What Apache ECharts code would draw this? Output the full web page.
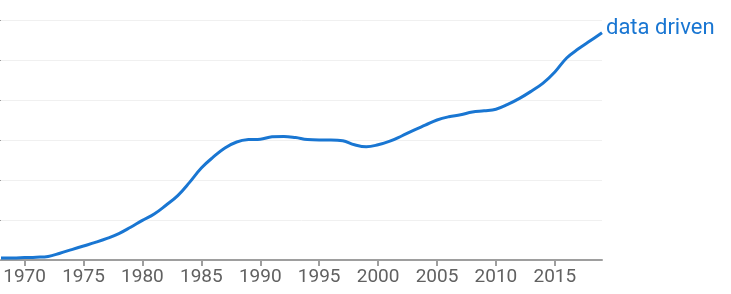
<!DOCTYPE html>
<html>
<head>
<meta charset="utf-8">
<script src="https://cdn.jsdelivr.net/npm/echarts@6/dist/echarts.min.js"></script>
<style>
html,body{margin:0;padding:0;background:#fff;}
#chart{width:731px;height:294px;}
</style>
</head>
<body>
<div id="chart"></div>
<script>
var years = [];
for (var y = 1968; y <= 2019; y++) years.push(String(y));

var seriesName = 'data driven';
var values = [
  0.05, 0.05, 0.06, 0.07, 0.09, 0.17, 0.26, 0.35, 0.44, 0.54,
  0.66, 0.82, 0.99, 1.15, 1.37, 1.61, 1.94, 2.30, 2.57, 2.80,
  2.95, 3.01, 3.02, 3.08, 3.09, 3.06, 3.01, 3.00, 3.00, 2.98,
  2.88, 2.83, 2.88, 2.97, 3.10, 3.24, 3.37, 3.50, 3.58, 3.63,
  3.70, 3.73, 3.77, 3.89, 4.04, 4.22, 4.42, 4.70, 5.05, 5.28,
  5.48, 5.68
];

var chart = echarts.init(document.getElementById('chart'), null, {renderer: 'canvas'});
function every5(idx, val) { return Number(val) % 5 === 0; }
chart.setOption({
  animation: false,
  grid: {left: 1, right: 129, top: 20, bottom: 34, containLabel: false},
  xAxis: {
    type: 'category',
    data: years,
    boundaryGap: false,
    axisLine: {show: true, lineStyle: {color: '#9e9e9e', width: 2}},
    axisTick: {show: true, interval: every5, length: 6, lineStyle: {color: '#9e9e9e', width: 2}},
    axisLabel: {interval: every5, color: '#616161', fontSize: 19, fontFamily: 'Roboto', margin: 8},
    splitLine: {show: false}
  },
  yAxis: {
    type: 'value',
    min: 0, max: 6, interval: 1,
    axisLine: {show: false},
    axisTick: {show: true, length: 2, lineStyle: {color: '#9e9e9e'}},
    axisLabel: {show: false},
    splitLine: {show: true, lineStyle: {color: '#f0f0f0', width: 1}}
  },
  series: [{
    name: seriesName,
    type: 'line',
    data: values,
    smooth: 0.4,
    symbol: 'none',
    lineStyle: {color: '#1976d2', width: 3},
    endLabel: {
      show: true,
      formatter: seriesName,
      color: '#1976d2',
      fontSize: 22,
      fontFamily: 'Roboto',
      distance: 4,
      offset: [0, -4]
    }
  }]
});
</script>
</body>
</html>
